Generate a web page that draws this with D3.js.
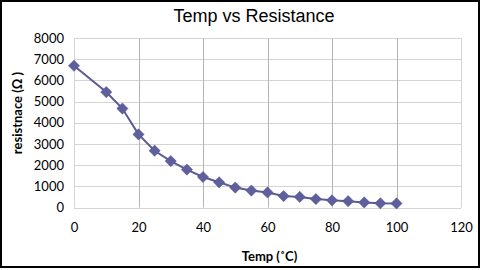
<!DOCTYPE html>
<html>
<head>
<meta charset="utf-8">
<script src="https://cdn.jsdelivr.net/npm/d3@7"></script>
<style>
    body { margin: 0; background: #fff; }
    svg { display: block; }
</style>
</head>
<body>
<div id="chart"></div>
<script>

// temperature (C) and resistance (ohm)
var temps = [0, 10, 15, 20, 25, 30, 35, 40, 45, 50, 55, 60, 65, 70, 75, 80, 85, 90, 95, 100];
var resistance = [6690, 5450, 4670, 3450, 2680, 2190, 1790, 1440, 1190, 940, 800, 710, 540, 500, 400, 340, 300, 240, 200, 190];
var xTicks = [0, 20, 40, 60, 80, 100, 120];
var yTicks = [0, 1000, 2000, 3000, 4000, 5000, 6000, 7000, 8000];

var width = 480, height = 270;
var margin = { top: 38, right: 18, bottom: 63, left: 74 };

var svg = d3.select("#chart").append("svg")
    .attr("width", width)
    .attr("height", height);

svg.append("rect")
    .attr("x", 1).attr("y", 1)
    .attr("width", width - 2).attr("height", height - 4)
    .attr("fill", "#fff")
    .attr("stroke", "#000")
    .attr("stroke-width", 2);

var x = d3.scaleLinear().domain([0, 120]).range([margin.left, width - margin.right - 1]);
var y = d3.scaleLinear().domain([0, 8000]).range([height - margin.bottom + 0.5, margin.top]);

// gridlines
svg.append("g")
    .selectAll("line")
    .data(yTicks)
    .enter().append("line")
    .attr("x1", x(0)).attr("x2", x(120))
    .attr("y1", d => Math.round(y(d)) + 0.5)
    .attr("y2", d => Math.round(y(d)) + 0.5)
    .attr("stroke", "#d4d4d4");

svg.append("g")
    .selectAll("line")
    .data(xTicks)
    .enter().append("line")
    .attr("x1", d => Math.round(x(d)) + 0.5)
    .attr("x2", d => Math.round(x(d)) + 0.5)
    .attr("y1", y(0)).attr("y2", y(8000))
    .attr("stroke", d => (d === 0 || d === 120) ? "#d4d4d4" : "#b4b4b4");

// axes (labels only, Excel style)
var xAxis = d3.axisBottom(x).tickValues(xTicks).tickSize(0).tickPadding(15);
var yAxis = d3.axisLeft(y).tickValues(yTicks).tickFormat(d3.format("d")).tickSize(0).tickPadding(10);

svg.append("g")
    .attr("class", "axis")
    .attr("transform", "translate(0," + y(0) + ")")
    .call(xAxis);

svg.append("g")
    .attr("class", "axis")
    .attr("transform", "translate(" + x(0) + ",0)")
    .call(yAxis);

svg.selectAll(".axis .domain").remove();
svg.selectAll(".axis text")
    .attr("font-family", "Lato, 'Open Sans', sans-serif")
    .attr("font-size", 13)
    .attr("fill", "#000");

// series
var pts = temps.map((t, i) => [t, resistance[i]]);

svg.append("path")
    .datum(pts)
    .attr("fill", "none")
    .attr("stroke", "#5b5b98")
    .attr("stroke-width", 2)
    .attr("d", d3.line().x(d => x(d[0])).y(d => y(d[1])));

svg.append("g")
    .selectAll("path")
    .data(pts)
    .enter().append("path")
    .attr("d", d3.symbol().type(d3.symbolDiamond2).size(80))
    .attr("transform", d => "translate(" + x(d[0]) + "," + y(d[1]) + ")")
    .attr("fill", "#5f5f9e")
    .attr("stroke", "#4d4d88")
    .attr("stroke-width", 0.5);

// titles
svg.append("text")
    .attr("x", 254).attr("y", 22)
    .attr("text-anchor", "middle")
    .attr("font-family", "'Liberation Sans', Arial, sans-serif")
    .attr("font-size", 18)
    .text("Temp vs Resistance");

svg.append("text")
    .attr("x", (x(0) + x(120)) / 2 + 2).attr("y", 261)
    .attr("text-anchor", "middle")
    .attr("font-family", "Lato, 'Open Sans', sans-serif")
    .attr("font-weight", "bold")
    .attr("font-size", 13)
    .text("Temp (˚C)");

svg.append("text")
    .attr("transform", "translate(22,113) rotate(-90)")
    .attr("text-anchor", "middle")
    .attr("font-family", "Lato, 'Open Sans', sans-serif")
    .attr("font-weight", "bold")
    .attr("font-size", 13)
    .text("resistnace (Ω )");

</script>
</body>
</html>
